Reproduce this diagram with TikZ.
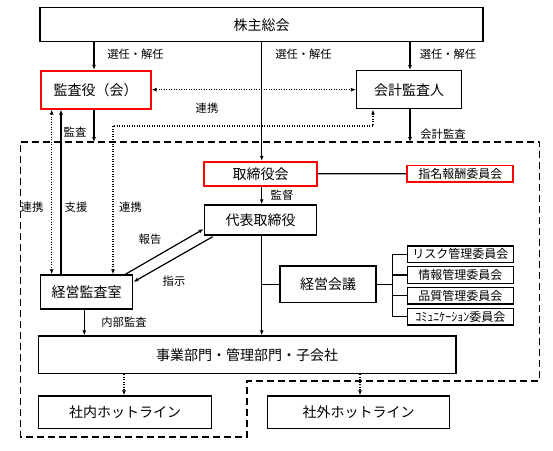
\documentclass[tikz,border=0pt]{standalone}
\usepackage{fontspec}
\setmainfont{Noto Sans CJK JP}
\usetikzlibrary{arrows.meta,calc}
\begin{document}
\begin{tikzpicture}[x=1pt,y=-1pt,
 box/.style={draw,line width=1.5pt,fill=white,inner sep=0pt,font=\fontsize{14}{16}\selectfont},
 redbox/.style={box,draw=red,line width=1.7pt},
 cbox/.style={draw,line width=1.5pt,fill=white,inner sep=0pt,minimum width=106pt,minimum height=16.7pt,font=\fontsize{12}{13}\selectfont},
 lbl/.style={font=\fontsize{11.3}{13}\selectfont,inner sep=0pt},
 conn/.style={line width=1.2pt},
 arr/.style={conn,-{Latex[length=5pt,width=4pt]}},
 darr/.style={conn,{Latex[length=5pt,width=4pt]}-{Latex[length=5pt,width=4pt]}},
 dotl/.style={dash pattern=on 1.2pt off 1.3pt},
 bord/.style={line width=1.5pt,dash pattern=on 7pt off 4pt}]
\useasboundingbox (0,0) rectangle (553,450);

% x positions of vertical connectors
\coordinate (xA) at (94,0);
\coordinate (xL) at (51.7,0);
\coordinate (xS) at (61,0);
\coordinate (xR) at (113,0);
\coordinate (xC) at (261.7,0);
\coordinate (xK) at (410,0);
\coordinate (xKd) at (373,0);
\coordinate (xIn) at (84.3,0);
\coordinate (xH1) at (124,0);
\coordinate (xH2) at (360,0);
\coordinate (xB) at (392.7,0);
\coordinate (btop) at (0,142);
\coordinate (dy) at (0,126);

% dashed border
\coordinate (b1) at (20.7,142);
\coordinate (b2) at (539.3,142);
\coordinate (b3) at (539.3,381);
\coordinate (b4) at (247,381);
\coordinate (b5) at (247,437);
\coordinate (b6) at (20.7,437);
\draw[bord] (b1) -- (b2) -- (b3) -- (b4) -- (b5) -- (b6) -- cycle;

% boxes
\node[box,minimum width=443pt,minimum height=34pt] (share) at (261.7,24.7) {株主総会};
\node[redbox,minimum width=110pt,minimum height=38pt] (aud) at (95.7,89.7) {監査役（会）};
\node[box,minimum width=105pt,minimum height=38pt] (acc) at (409.2,89.7) {会計監査人};
\node[redbox,minimum width=112.4pt,minimum height=24.3pt] (board) at (260.5,173.8) {取締役会};
\node[cbox,draw=red,line width=1.7pt] (nom) at (460.3,173.7) {指名報酬委員会};
\node[box,minimum width=112.4pt,minimum height=30pt] (ceo) at (260.5,220) {代表取締役};
\node[box,minimum width=96pt,minimum height=36.3pt] (mgmt) at (328,284.2) {経営会議};
\node[cbox] (c1) at (460.3,254.3) {リスク管理委員会};
\node[cbox] (c2) at (460.3,275) {情報管理委員会};
\node[cbox] (c3) at (460.3,295.7) {品質管理委員会};
\node[cbox] (c4) at (460.3,316.7) {ｺﾐｭﾆｹｰｼｮﾝ委員会};
\node[box,minimum width=92pt,minimum height=34pt] (office) at (86.7,292) {経営監査室};
\node[box,minimum width=417.7pt,minimum height=37.3pt] (biz) at (247.2,354.7) {事業部門・管理部門・子会社};
\node[box,minimum width=173.4pt,minimum height=32.3pt] (inh) at (125,412.2) {社内ホットライン};
\node[box,minimum width=181.6pt,minimum height=32.3pt] (exh) at (358.5,412.2) {社外ホットライン};

% connectors
\draw[arr] (share.south -| xA) -- (aud.north -| xA);
\draw[arr] (share.south -| xC) -- (board.north -| xC);
\draw[arr] (share.south -| xK) -- (acc.north -| xK);
\draw[darr,dotl] (aud.east) -- (acc.west);
\draw[arr] (aud.south -| xA) -- (btop -| xA);
\draw[arr] (acc.south -| xK) -- (btop -| xK);
\draw[darr,dotl] (office.north -| xR) -- (dy -| xR) -- (dy -| xKd) -- (acc.south -| xKd);
\draw[darr,dotl] (aud.south -| xL) -- (office.north -| xL);
\draw[arr] (office.north -| xS) -- (aud.south -| xS);
\draw[conn] (board.east) -- (nom.west);
\draw[arr] (board.south -| xC) -- (ceo.north -| xC);
\draw[arr] (ceo.south -| xC) -- (biz.north -| xC);
\draw[conn] (mgmt.west -| xC) -- (mgmt.west);
\draw[conn] (mgmt.east) -- (mgmt.east -| xB);
\draw[conn] (c1.west -| xB) -- (c4.west -| xB);
\draw[conn] (c1.west -| xB) -- (c1.west);
\draw[conn] (c2.west -| xB) -- (c2.west);
\draw[conn] (c3.west -| xB) -- (c3.west);
\draw[conn] (c4.west -| xB) -- (c4.west);
\draw[arr] ($(office.north east)+(-8,0)$) -- ($(ceo.south west)+(0,-6.7)$);
\draw[arr] ($(ceo.south west)+(9,1)$) -- ($(office.north east)+(0,7.7)$);
\draw[arr] (office.south -| xIn) -- (biz.north -| xIn);
\draw[arr,dotl] (biz.south -| xH1) -- (inh.north -| xH1);
\draw[arr,dotl] (biz.south -| xH2) -- (exh.north -| xH2);

% labels
\node[lbl] (l1) at (135.5,54) {選任・解任};
\node[lbl] (l2) at (303.5,54) {選任・解任};
\node[lbl] (l3) at (448,54) {選任・解任};
\node[lbl] (l4) at (207,108) {連携};
\node[lbl] (l5) at (75,132) {監査};
\node[lbl] (l6) at (443,134) {会計監査};
\node[lbl] (l7) at (32,207) {連携};
\node[lbl] (l8) at (76,207) {支援};
\node[lbl] (l9) at (130.5,207) {連携};
\node[lbl] (l10) at (282,195) {監督};
\node[lbl] (l11) at (150,239) {報告};
\node[lbl] (l12) at (174,281) {指示};
\node[lbl] (l13) at (124,322.7) {内部監査};
\end{tikzpicture}
\end{document}
